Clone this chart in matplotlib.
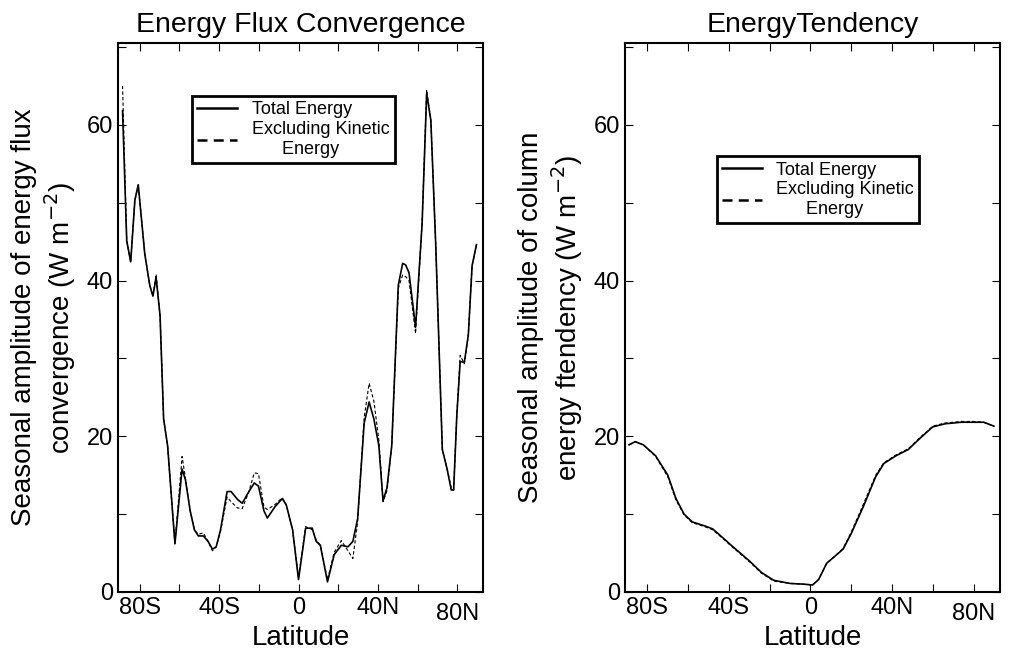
import numpy as np
import matplotlib.pyplot as plt
from matplotlib.ticker import MultipleLocator, FixedLocator
from matplotlib.lines import Line2D

plt.rcParams['font.family'] = ['Liberation Sans', 'DejaVu Sans']

# Energy flux convergence (left panel)
lat_flux = [-88.7, -86.6, -84.6, -82.5, -80.8, -77.5, -75, -73.4, -71.8, -69.8, -68, -66, -62.3,
            -58.7, -57, -54.6, -52.5, -50.5, -48, -45.6, -43.4, -41.5, -39.3, -36, -34, -30.8,
            -28.4, -25, -22.3, -20.2, -17.4, -15.7, -12, -8.2, -6.2, -3, 0, 3.6, 6.9, 8.9, 11,
            14.6, 18, 21.6, 24.9, 27.4, 29.8, 33.1, 35.6, 38, 40.5, 42.6, 44.6, 47, 50.3, 52.5,
            54, 55.7, 59, 62.3, 64.6, 66.7, 69.2, 72.5, 74.9, 77, 78.2, 79.8, 81.5, 83.6, 85.6,
            87.5, 89.7]
flux_total = [61.8, 45.1, 42.4, 50.3, 52.3, 43.4, 39.4, 38, 40.4, 35.5, 22.2, 18.8, 6.2,
              15.8, 14.4, 10.4, 8, 7.2, 7.2, 6.5, 5.5, 5.8, 8, 12.9, 12.9, 11.9,
              11.4, 12.9, 14, 13.6, 10.4, 9.5, 10.9, 12, 11.2, 8, 1.6, 8.2, 8.2, 6.5, 6,
              1.3, 4.8, 6, 5.8, 6.5, 9.4, 21.7, 24.4, 22.2, 18.8, 11.7, 13.4, 18.8, 39.4, 42.2,
              42, 41, 34, 47.3, 64, 60.6, 44.4, 18.3, 15.8, 13.1, 13.1, 22.7, 29.6, 29.5, 33,
              41.9, 44.6]
flux_nokin = [65, 45.1, 42.4, 50.3, 52.3, 43.4, 39.4, 38, 40.8, 35.5, 22.2, 18.8, 6.2,
              17.4, 14.6, 10.4, 8, 7.4, 7.6, 6.5, 5.3, 5.8, 7.8, 12.2, 11.6, 10.8,
              10.7, 12.9, 15.3, 15.2, 10.9, 10.6, 11.2, 12.1, 11.2, 8, 1.8, 8.4, 8.0, 6.7, 6.0,
              1.6, 5.1, 6.6, 5.3, 4.3, 9.0, 22.4, 26.8, 24.5, 19.5, 11.6, 13.0, 18.8, 39.0, 40.7,
              40.5, 40.0, 33.2, 47.3, 64.5, 60.6, 44.4, 18.3, 15.8, 13.4, 13.1, 22.7, 30.4, 29.3, 33,
              41.9, 44.6]

# Energy tendency (right panel)
lat_tend = [-89, -86, -82, -76, -70, -66, -62, -58, -52, -48, -44, -38, -30, -24, -18, -10, -3, 1,
            4, 8, 12, 16, 20, 26, 32, 36, 42, 48, 54, 60, 66, 74, 80, 85, 90]
tend_total = [18.9, 19.3, 18.9, 17.5, 15, 12, 10, 9, 8.5, 8.1, 7.2, 5.8, 4, 2.5, 1.5, 1.1, 1, 0.9,
              1.6, 3.7, 4.6, 5.5, 7.5, 11, 14.8, 16.5, 17.5, 18.3, 19.8, 21.2, 21.6, 21.8, 21.8, 21.8, 21.3]
tend_nokin = [18.9, 19.3, 18.9, 17.4, 14.8, 11.8, 9.9, 8.9, 8.4, 8.0, 7.1, 5.7, 3.9, 2.4, 1.4, 1.1, 1, 0.9,
              1.6, 3.7, 4.6, 5.6, 7.7, 11.3, 15.0, 16.6, 17.6, 18.4, 19.9, 21.3, 21.7, 21.9, 21.9, 21.8, 21.3]

tick_pos = [-80, -40, 0, 40, 80]
tick_lab = ['80S', '40S', '0', '40N', '80N']

fig = plt.figure(figsize=(10.18, 6.55), dpi=100)
ax1 = fig.add_axes([118/1018, 1-592/655, 365/1018, 549/655])
ax2 = fig.add_axes([625/1018, 1-592/655, 375/1018, 549/655])

panels = [
    (ax1, lat_flux, flux_total, flux_nokin, 'Energy Flux Convergence',
     'Seasonal amplitude of energy flux\nconvergence (W m$^{-2}$)', (0.178, 0.92)),
    (ax2, lat_tend, tend_total, tend_nokin, 'EnergyTendency',
     'Seasonal amplitude of column\nenergy ftendency (W m$^{-2}$)', (0.22, 0.81)),
]
handles = [Line2D([], [], color='black', lw=1.8),
           Line2D([], [], color='black', lw=1.8, ls=(0, (4, 2.5)))]
labels = ['Total Energy', 'Excluding Kinetic\n      Energy']
for ax, lat, tot, nok, title, ylab, legpos in panels:
    ax.plot(lat, tot, color='black', lw=1.2)
    ax.plot(lat, nok, color='black', lw=0.8, ls=(0, (3, 2)))
    ax.set_xlim(-91, 93)
    ax.set_ylim(0, 70.5)
    ax.xaxis.set_major_locator(FixedLocator(tick_pos))
    ax.set_xticklabels(tick_lab)
    ax.xaxis.set_minor_locator(MultipleLocator(20))
    ax.yaxis.set_major_locator(FixedLocator([0, 20, 40, 60]))
    ax.yaxis.set_minor_locator(MultipleLocator(10))
    ax.tick_params(which='both', direction='in', top=True, right=True, labelsize=17, width=0.8)
    ax.tick_params(which='both', length=6)
    for s in ax.spines.values():
        s.set_linewidth(1.5)
    ax.set_title(title, fontsize=20.5, pad=8)
    ax.set_xlabel('Latitude', fontsize=20, labelpad=0)
    ax.set_ylabel(ylab, fontsize=20, labelpad=6)
    leg = ax.legend(handles, labels, loc='upper left', bbox_to_anchor=legpos, fontsize=13,
                    frameon=True, fancybox=False, edgecolor='black', framealpha=1,
                    handlelength=2.2, borderpad=0.3, labelspacing=0.15)
    leg.get_frame().set_linewidth(2)
    ax.get_xticklabels()[-1].set_y(-0.012)

fig.savefig('out.png', dpi=100)
